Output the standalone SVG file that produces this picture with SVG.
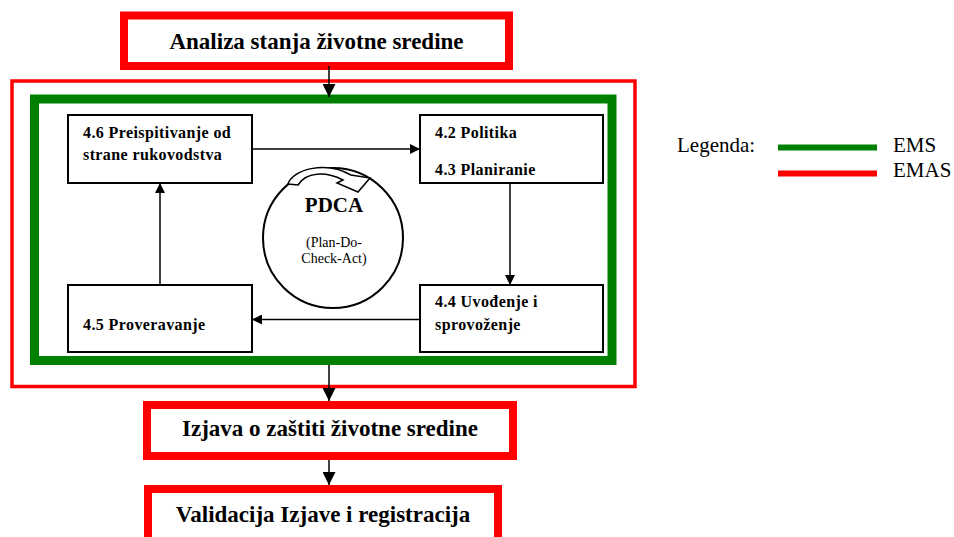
<svg xmlns="http://www.w3.org/2000/svg" width="954" height="537" viewBox="0 0 954 537">
<defs>
<marker id="ah" markerWidth="10" markerHeight="10" refX="10" refY="5" orient="auto" markerUnits="userSpaceOnUse">
<path d="M0,0 L10,5 L0,10 Z" fill="#000"/>
</marker>
<marker id="ahb" markerWidth="13" markerHeight="13" refX="13" refY="6.5" orient="auto" markerUnits="userSpaceOnUse">
<path d="M0,0 L13,6.5 L0,13 Z" fill="#000"/>
</marker>
<style>
text{font-family:"Liberation Serif","Times New Roman",Tinos,"Nimbus Roman","DejaVu Serif",serif;fill:#000}
.redbox{fill:#fff;stroke:#ff0000;stroke-width:8}
.node{fill:#fff;stroke:#000;stroke-width:2}
.big{font-weight:bold;font-size:23px;text-anchor:middle}
.nt{font-weight:bold;font-size:16px;letter-spacing:0.4px}
.leg{font-size:21px}
.conn{stroke:#000;stroke-width:1.5;fill:none}
</style>
</defs>
<rect width="954" height="537" fill="#fff"/>

<g id="emas-frame"><rect x="12" y="81" width="623" height="305.5" fill="none" stroke="#ff0000" stroke-width="3.5"/></g>
<g id="ems-frame"><rect x="34.5" y="99" width="577.5" height="261.5" fill="none" stroke="#008000" stroke-width="9"/></g>

<g id="analiza">
<rect class="redbox" x="124" y="15.5" width="385" height="50.5"/>
<text class="big" x="316.5" y="49">Analiza stanja životne sredine</text>
</g>

<g id="izjava">
<rect class="redbox" x="147" y="405" width="366" height="51"/>
<text class="big" x="330" y="436">Izjava o zaštiti životne sredine</text>
</g>

<g id="validacija">
<rect class="redbox" x="148" y="489" width="350" height="60"/>
<text class="big" x="323" y="522">Validacija Izjave i registracija</text>
</g>

<g id="n46">
<rect class="node" x="68" y="115" width="184" height="68"/>
<text class="nt" x="83" y="138">4.6 Preispitivanje od</text>
<text class="nt" x="83" y="160">strane rukovodstva</text>
</g>

<g id="n42">
<rect class="node" x="420" y="115" width="183" height="68"/>
<text class="nt" x="435" y="138">4.2 Politika</text>
<text class="nt" x="435" y="175">4.3 Planiranie</text>
</g>

<g id="n44">
<rect class="node" x="420" y="285" width="183" height="67"/>
<text class="nt" x="435" y="307">4.4 Uvođenje i</text>
<text class="nt" x="435" y="330">sprovoženje</text>
</g>

<g id="n45">
<rect class="node" x="68" y="285" width="184" height="67"/>
<text class="nt" x="83" y="330">4.5 Proveravanje</text>
</g>

<g id="pdca">
<circle cx="333" cy="238" r="70" fill="#fff" stroke="#000" stroke-width="2"/>
<path d="M288,184 C292,170 325,160 351,175 L370,178 L358,192 L337,183 L343,180 C325,171 306,172 298,185 Z" fill="#fff" stroke="#000" stroke-width="1.5" stroke-linejoin="miter"/>
<text x="334" y="212" font-weight="bold" font-size="21" text-anchor="middle">PDCA</text>
<text x="334" y="247" font-size="14" text-anchor="middle">(Plan-Do-</text>
<text x="334" y="263" font-size="14" text-anchor="middle">Check-Act)</text>
</g>

<g id="legend">
<text class="leg" x="677" y="152">Legenda:</text>
<line x1="778" y1="147.5" x2="877" y2="147.5" stroke="#008000" stroke-width="6"/>
<line x1="778" y1="173.5" x2="877" y2="173.5" stroke="#ff0000" stroke-width="6"/>
<text class="leg" x="893" y="152">EMS</text>
<text class="leg" x="893" y="177">EMAS</text>
</g>

<g id="connectors">
<line class="conn" x1="329" y1="66" x2="329" y2="97" marker-end="url(#ahb)"/>
<line class="conn" x1="252" y1="149" x2="420" y2="149" marker-end="url(#ah)"/>
<line class="conn" x1="510" y1="183" x2="510" y2="285" marker-end="url(#ah)"/>
<line class="conn" x1="420" y1="319.5" x2="252" y2="319.5" marker-end="url(#ah)"/>
<line class="conn" x1="160" y1="285" x2="160" y2="183" marker-end="url(#ah)"/>
<line class="conn" x1="329" y1="365" x2="329" y2="401" marker-end="url(#ahb)"/>
<line class="conn" x1="329" y1="460" x2="329" y2="485" marker-end="url(#ahb)"/>
</g>
</svg>
